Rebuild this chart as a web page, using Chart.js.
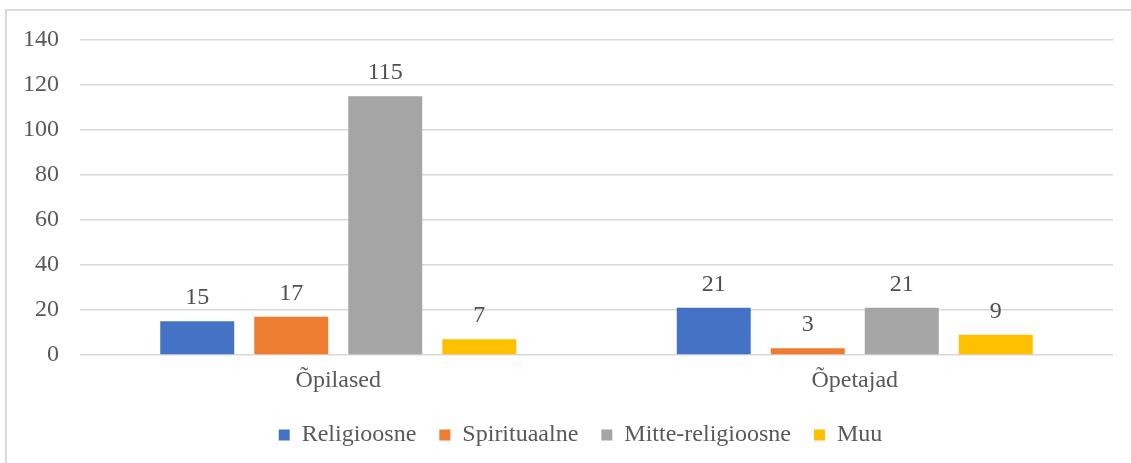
<!DOCTYPE html>
<html>
<head>
<meta charset="utf-8">
<script src="https://cdn.jsdelivr.net/npm/chart.js@4.4.1/dist/chart.umd.min.js"></script>
<style>
  html, body { margin: 0; padding: 0; background: #fff; overflow: hidden; }
  #frame { position: absolute; left: 5px; top: 9px; width: 1140px; height: 470px; border: 2px solid #D9D9D9; box-sizing: border-box; }
  #wrap { position: absolute; left: 0; top: 0; width: 1131px; height: 463px; }
</style>
</head>
<body>
<div id="frame"></div>
<div id="wrap"><canvas id="c" width="1131" height="463"></canvas></div>
<script>
const categories = ["Õpilased", "Õpetajad"];
const seriesNames = ["Religioosne", "Spirituaalne", "Mitte-religioosne", "Muu"];
const religioosne = [15, 21];
const spirituaalne = [17, 3];
const mitteReligioosne = [115, 21];
const muu = [7, 9];
const yMin = 0, yMax = 140, yStep = 20;

const colors = ["#4472C4", "#ED7D31", "#A5A5A5", "#FFC000"];
const values = [religioosne, spirituaalne, mitteReligioosne, muu];
const FONT = "'Liberation Serif', 'Times New Roman', serif";
const TEXT = "#595959";

const dataLabels = {
  id: 'dataLabels',
  afterDatasetsDraw(chart) {
    const ctx = chart.ctx;
    ctx.save();
    ctx.font = "24px " + FONT;
    ctx.fillStyle = "#505050";
    ctx.textAlign = 'center';
    ctx.textBaseline = 'alphabetic';
    chart.data.datasets.forEach((ds, i) => {
      const meta = chart.getDatasetMeta(i);
      meta.data.forEach((bar, j) => {
        ctx.fillText(String(ds.data[j]), bar.x, bar.y - 17);
      });
    });
    ctx.restore();
  }
};

const legendShift = {
  id: 'legendShift',
  afterLayout(chart) {
    chart.legend.left = 48;
    chart.legend.right = 1113;
  }
};

new Chart(document.getElementById('c'), {
  type: 'bar',
  data: {
    labels: categories,
    datasets: seriesNames.map((n, i) => ({
      label: n,
      data: values[i],
      backgroundColor: colors[i],
      borderWidth: 0,
      categoryPercentage: 0.728,
      barPercentage: 0.787
    }))
  },
  options: {
    responsive: false,
    animation: false,
    devicePixelRatio: 1,
    layout: { padding: { left: 0, right: 18, top: 40, bottom: 6 } },
    plugins: {
      legend: {
        position: 'bottom',
        labels: {
          font: { family: FONT, size: 24 },
          color: TEXT,
          boxWidth: 11,
          boxHeight: 11,
          padding: 23
        }
      },
      tooltip: { enabled: false }
    },
    scales: {
      x: {
        grid: { display: false, drawTicks: false },
        border: { display: false },
        ticks: { font: { family: FONT, size: 24 }, color: TEXT, padding: 11 },
        afterFit(scale) { scale.height = 45; }
      },
      y: {
        min: yMin, max: yMax,
        grid: { color: "#D9D9D9", lineWidth: 1.5, drawTicks: false, tickLength: 0 },
        border: { display: false },
        ticks: { stepSize: yStep, font: { family: FONT, size: 24 }, color: TEXT, padding: 21 },
        afterFit(scale) { scale.width = 80; }
      }
    }
  },
  plugins: [dataLabels, legendShift]
});
</script>
</body>
</html>
